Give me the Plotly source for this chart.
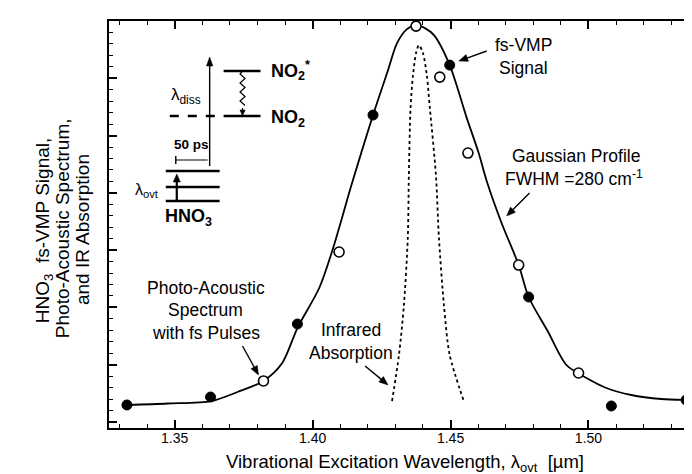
import math
import plotly.graph_objects as go

# ---------------- data ----------------
fit_wavelength = [1.3327, 1.3475, 1.3634, 1.3728, 1.3822, 1.3890, 1.3945, 1.4024, 1.4071,
                  1.4143, 1.4219, 1.4270, 1.4306, 1.4342, 1.4375, 1.4407, 1.4440, 1.4497,
                  1.4559, 1.4602, 1.4631, 1.4685, 1.4747, 1.4783, 1.4852, 1.4920, 1.4993,
                  1.5065, 1.5155, 1.5264, 1.5354]
fit_signal = [0.297, 0.323, 0.366, 0.524, 0.716, 1.030, 1.640, 2.339, 2.984,
              4.171, 5.358, 6.091, 6.614, 6.859, 6.928, 6.876, 6.754, 6.230,
              5.305, 4.695, 4.206, 3.473, 2.740, 2.182, 1.588, 0.995, 0.768,
              0.593, 0.471, 0.401, 0.384]

ir_wavelength = [1.4288, 1.4313, 1.4331, 1.4345, 1.4349, 1.4355, 1.4364, 1.4375, 1.4385,
                 1.4400, 1.4414, 1.4425, 1.4447, 1.4458, 1.4476, 1.4497, 1.4548]
ir_absorption = [0.366, 1.169, 2.042, 3.211, 4.311, 5.480, 6.056, 6.440, 6.579,
                 6.440, 6.056, 5.480, 4.311, 3.211, 2.042, 1.169, 0.366]

vmp_wavelength = [1.3327, 1.3630, 1.3945, 1.4219, 1.4497, 1.4783, 1.5083, 1.5354]
vmp_signal = [0.297, 0.436, 1.710, 5.358, 6.230, 2.182, 0.279, 0.384]

pas_wavelength = [1.3822, 1.4096, 1.4375, 1.4461, 1.4563, 1.4747, 1.4964]
pas_signal = [0.716, 2.967, 6.911, 6.021, 4.695, 2.740, 0.855]

x_tick_values = [1.35, 1.40, 1.45, 1.50]
x_tick_labels = ["1.35", "1.40", "1.45", "1.50"]

# ---------------- layout helpers (pixel -> paper) ----------------
W, H = 692, 474
L, R, T, B = 101, 0, 13, 54
PW, PH = W - L - R, H - T - B


def PX(px):
    return (px - L) / PW


def PY(py):
    return (H - B - py) / PH


FONT = "Liberation Sans, Arial, Helvetica, sans-serif"

fig = go.Figure()

fig.add_trace(go.Scatter(x=fit_wavelength, y=fit_signal, mode="lines",
                         line=dict(color="black", width=1.8, shape="spline", smoothing=0.8),
                         hoverinfo="skip", showlegend=False))
fig.add_trace(go.Scatter(x=ir_wavelength, y=ir_absorption, mode="lines",
                         line=dict(color="black", width=1.8, dash="dot", shape="spline", smoothing=0.8),
                         hoverinfo="skip", showlegend=False))
fig.add_trace(go.Scatter(x=vmp_wavelength, y=vmp_signal, mode="markers",
                         marker=dict(color="black", size=10, line=dict(color="black", width=1)),
                         showlegend=False))
fig.add_trace(go.Scatter(x=pas_wavelength, y=pas_signal, mode="markers",
                         marker=dict(color="white", size=10, line=dict(color="black", width=1.6)),
                         showlegend=False))
# invisible trace to anchor the right-hand tick axis
fig.add_trace(go.Scatter(x=[x_tick_values[0]], y=[0], yaxis="y2", mode="markers",
                         marker=dict(opacity=0), hoverinfo="skip", showlegend=False))

YR = [-0.105, 7.0]
fig.update_layout(
    width=W, height=H,
    margin=dict(l=L, r=R, t=T, b=B),
    paper_bgcolor="white", plot_bgcolor="white",
    font=dict(family=FONT, color="black"),
    xaxis=dict(range=[1.3262, 1.5397], tickvals=x_tick_values, ticktext=x_tick_labels,
               ticks="inside", ticklen=8, tickwidth=1.6, tickcolor="black",
               ticklabelstandoff=-4,
               minor=dict(dtick=0.01, tick0=1.30, ticks="inside", ticklen=4, tickwidth=1.4,
                          tickcolor="black", showgrid=False),
               showline=True, linewidth=2, linecolor="black", mirror="ticks",
               showgrid=False, zeroline=False, tickfont=dict(size=14, family=FONT)),
    yaxis=dict(range=YR, tick0=0, dtick=1, showticklabels=False,
               ticks="inside", ticklen=8, tickwidth=1.6, tickcolor="black",
               minor=dict(dtick=0.2, tick0=0, ticks="inside", ticklen=4, tickwidth=1.4,
                          tickcolor="black", showgrid=False),
               showline=True, linewidth=2, linecolor="black", mirror=True,
               showgrid=False, zeroline=False),
    yaxis2=dict(range=YR, overlaying="y", side="right", tick0=0, dtick=1,
                showticklabels=False, ticks="inside", ticklen=5, tickwidth=1.6,
                tickcolor="black", showline=False, showgrid=False, zeroline=False),
)

ann = []
shapes = []


def text(px, py, s, size=17.5, bold=False, xanchor="center", angle=0):
    if bold:
        s = "<b>" + s + "</b>"
    ann.append(dict(x=PX(px), y=PY(py), xref="paper", yref="paper", text=s,
                    showarrow=False, xanchor=xanchor, yanchor="middle", textangle=angle,
                    font=dict(size=size, family=FONT, color="black")))


def seg(x0, y0, x1, y1, width=2.0, dash="solid"):
    shapes.append(dict(type="line", xref="paper", yref="paper",
                       x0=PX(x0), y0=PY(y0), x1=PX(x1), y1=PY(y1),
                       line=dict(color="black", width=width, dash=dash)))


def arrow(x0, y0, x1, y1, width=1.4, hl=9.0, hw=3.6):
    # tail (x0,y0) -> head (x1,y1), in pixels; head drawn as a filled triangle
    dx, dy = x1 - x0, y1 - y0
    n = math.hypot(dx, dy)
    ux, uy = dx / n, dy / n
    bx, by = x1 - ux * hl, y1 - uy * hl
    seg(x0, y0, bx + ux * 1.0, by + uy * 1.0, width)
    p1 = (bx - uy * hw, by + ux * hw)
    p2 = (bx + uy * hw, by - ux * hw)
    path = "M {:.5f},{:.5f} L {:.5f},{:.5f} L {:.5f},{:.5f} Z".format(
        PX(x1), PY(y1), PX(p1[0]), PY(p1[1]), PX(p2[0]), PY(p2[1]))
    shapes.append(dict(type="path", xref="paper", yref="paper", path=path,
                       fillcolor="black", line=dict(color="black", width=0.5)))


# axis titles
text(398, 455, "Vibrational Excitation Wavelength, λ<sub>ovt</sub>  [µm]", size=18.5)
text(36, 222, "HNO<sub>3</sub>  fs-VMP Signal,", size=19, angle=-90)
text(55, 220, "Photo-Acoustic Spectrum,", size=19, angle=-90)
text(74, 222, "and IR Absorption", size=19, angle=-90)

# curve labels
text(517, 37, "fs-VMP")
text(517, 60, "Signal")
arrow(480, 43, 452, 53)
text(570, 148, "Gaussian Profile")
text(568, 170, "FWHM =280 cm<sup>-1</sup>")
arrow(523, 185, 500, 208)
text(198, 280, "Photo-Acoustic")
text(198, 302, "Spectrum")
text(198, 325, "with fs Pulses")
arrow(235, 338, 251, 367)
text(344, 322, "Infrared")
text(344, 345, "Absorption")
arrow(358, 358, 381, 377)

# inset energy diagram
text(178, 88, "λ<sub>diss</sub>", size=17)
text(262, 62, "NO<sub>2</sub><sup>*</sup>", size=18, bold=True, xanchor="left")
text(262, 110, "NO<sub>2</sub>", size=18, bold=True, xanchor="left")
text(184, 136, "50 ps", size=13.5, bold=True)
text(139, 182, "λ<sub>ovt</sub>", size=16)
text(181, 209, "HNO<sub>3</sub>", size=18, bold=True)
arrow(202, 158, 202, 49, width=1.4, hl=9, hw=3.2)
arrow(169, 193, 169, 166, width=2.2, hl=8, hw=3.6)
arrow(235, 100, 235, 108, width=1.2, hl=6, hw=2.6)

seg(216, 63, 253, 63, 2.4)          # NO2* level
seg(216, 108, 253, 108, 2.4)        # NO2 level
seg(162, 108, 216, 108, 2.4, "dash")
for lvl in (163, 179, 193):          # HNO3 levels
    seg(158, lvl, 212, lvl, 2.4)
seg(168, 152, 200, 152, 1.2)        # 50 ps bar
seg(168, 148, 168, 156, 1.4)

# wavy de-excitation line
pts = [f"{PX(235):.5f},{PY(63):.5f}"]
for i in range(8):
    yy = 66 + i * 4.5
    xx = 235 + (2.5 if i % 2 else -2.5)
    pts.append(f"{PX(xx):.5f},{PY(yy):.5f}")
shapes.append(dict(type="path", xref="paper", yref="paper",
                   path="M " + " L ".join(pts),
                   line=dict(color="black", width=1.2)))

fig.update_layout(annotations=ann, shapes=shapes)
fig.write_html("out.html")
